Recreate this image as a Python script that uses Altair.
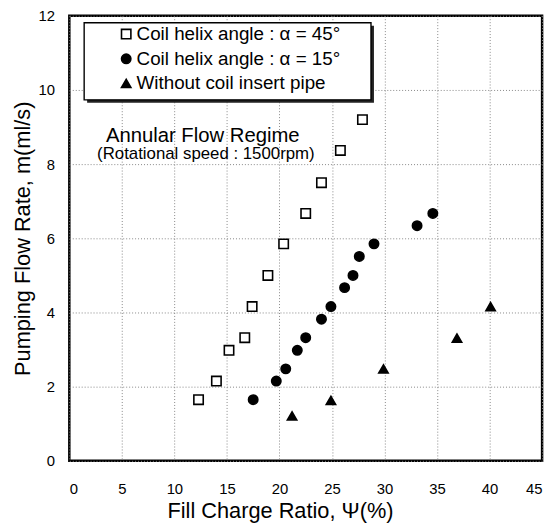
import altair as alt
import pandas as pd

series_names = [
    "Coil helix angle : \u03b1 = 45\u00b0",
    "Coil helix angle :  \u03b1 = 15\u00b0",
    "Without coil insert pipe",
]

sq_x = [12.3, 14.0, 15.2, 16.7, 17.4, 18.9, 20.4, 22.5, 24.0, 25.8, 27.9]
sq_y = [1.65, 2.15, 2.98, 3.32, 4.16, 5.0, 5.85, 6.67, 7.5, 8.37, 9.2]

ci_x = [17.5, 19.7, 20.6, 21.7, 22.5, 24.0, 24.9, 26.2, 27.0, 27.6, 29.0, 33.1, 34.6]
ci_y = [1.65, 2.15, 2.48, 2.98, 3.32, 3.82, 4.16, 4.67, 5.0, 5.51, 5.85, 6.34, 6.67]

tr_x = [21.2, 24.9, 29.9, 36.9, 40.1]
tr_y = [1.21, 1.63, 2.48, 3.31, 4.16]

note_text = ["Annular Flow Regime", "(Rotational speed : 1500rpm)"]
note_x = [12.7, 13.0]
note_y = [8.76, 8.27]
note_size = [20.5, 17]

FONT = "Liberation Sans"

rows = []
for name, xs, ys in zip(series_names, [sq_x, ci_x, tr_x], [sq_y, ci_y, tr_y]):
    for a, b in zip(xs, ys):
        rows.append({"series": name, "x": a, "y": b})
df = pd.DataFrame(rows)

notes = pd.DataFrame({"t": note_text, "x": note_x, "y": note_y, "s": note_size})

xscale = alt.Scale(domain=[0, 45], nice=False, zero=True)
yscale = alt.Scale(domain=[0, 12], nice=False)

# legend frame (decoration): drop shadow + white box
frame_df = pd.DataFrame({"k": [0]})
shadow = alt.Chart(frame_df).mark_rect(color="#222").encode(
    x=alt.value(18), x2=alt.value(308), y=alt.value(10), y2=alt.value(88)
)
frame = alt.Chart(frame_df).mark_rect(fill="white", stroke="black", strokeWidth=1.4).encode(
    x=alt.value(15), x2=alt.value(305), y=alt.value(7), y2=alt.value(85)
)

points = alt.Chart(df).mark_point(strokeWidth=1.6, opacity=1, size=90).encode(
    x=alt.X("x:Q", scale=xscale,
            axis=alt.Axis(values=list(range(0, 46, 5)), title="Fill Charge Ratio, \u03a8(%)",
                          titleFontSize=22, labelFontSize=15, titlePadding=4, labelPadding=21,
                          titleX=213)),
    y=alt.Y("y:Q", scale=yscale,
            axis=alt.Axis(values=list(range(0, 13, 2)), title="Pumping Flow Rate, m(ml/s)",
                          titleFontSize=22, labelFontSize=15, titlePadding=4, labelPadding=15)),
    shape=alt.Shape("series:N", scale=alt.Scale(domain=series_names, range=["square", "circle", "triangle-up"]),
                    legend=alt.Legend(title=None, orient="none", legendX=13, legendY=3,
                                      labelFontSize=19, labelFont=FONT, symbolOffset=29,
                                      labelOffset=1,
                                      rowPadding=5, padding=6,
                                      symbolStrokeWidth=1.6,
                                      symbolSize=90, labelLimit=400)),
    fill=alt.Fill("series:N", scale=alt.Scale(domain=series_names, range=["white", "black", "black"])),
    stroke=alt.Stroke("series:N", scale=alt.Scale(domain=series_names, range=["black", "black", "black"])),
)

text = alt.Chart(notes).mark_text(font=FONT, color="black", align="center").encode(
    x="x:Q", y="y:Q", text="t:N", size=alt.Size("s:Q", scale=None, legend=None)
)

chart = alt.layer(shadow, frame, points, text).properties(
    width=478, height=450,
    autosize=alt.AutoSizeParams(type="none"),
    padding={"left": 62, "top": 5, "right": 9, "bottom": 61},
).configure_view(stroke="black", strokeWidth=2.5).configure_axis(
    grid=True, gridColor="#888", gridDash=[1, 2], gridWidth=1, ticks=False, domain=False,
    labelFont=FONT, titleFont=FONT, labelColor="black", titleColor="black", titleFontWeight="normal",
).configure_legend(labelColor="black")

chart.save("out.html", embed_options={"renderer": "svg", "actions": False})
